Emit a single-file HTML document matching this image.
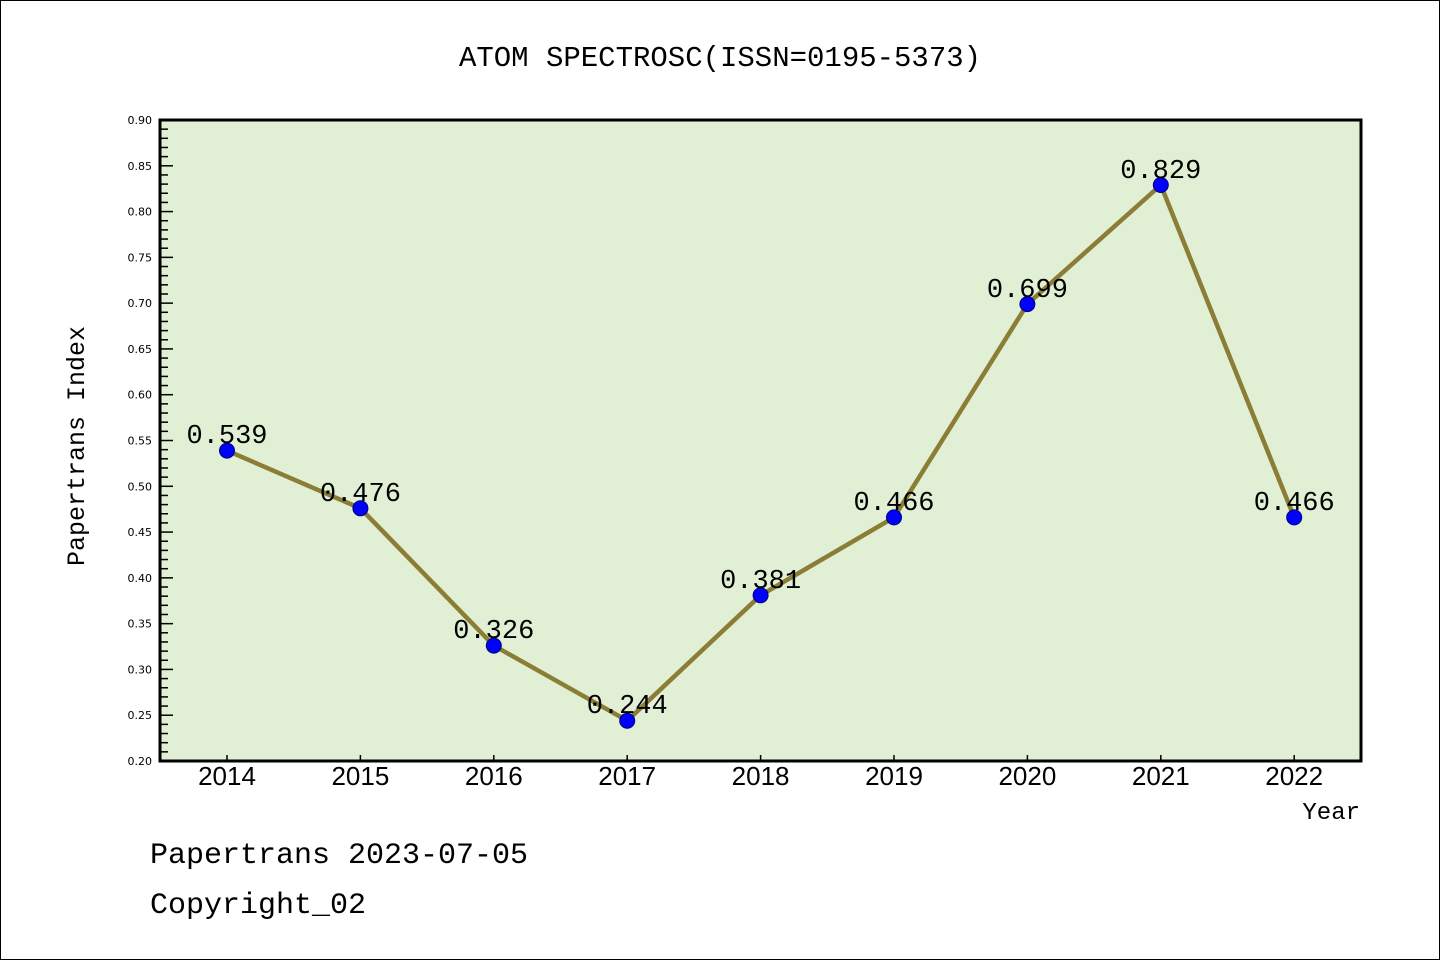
<!DOCTYPE html>
<html><head><meta charset="utf-8"><style>
html,body{margin:0;padding:0;background:#fff}
svg{display:block}
</style></head><body>
<svg width="1440" height="960" xmlns="http://www.w3.org/2000/svg">
<rect x="0.5" y="0.5" width="1439" height="959" fill="#fff" stroke="#000" stroke-width="1"/>
<text x="720" y="66" text-anchor="middle" font-family="Liberation Mono, monospace" font-size="29">ATOM SPECTROSC(ISSN=0195-5373)</text>
<rect x="160" y="120" width="1201" height="641" fill="#e1efd5"/>
<g id="ticks" stroke="#000" stroke-width="1.5"></g>
<g id="ylab" font-family="DejaVu Sans, sans-serif" font-size="11" text-anchor="end"></g>
<g id="xt" stroke="#000" stroke-width="1.5"></g>
<g id="xlab" font-family="Liberation Sans, sans-serif" font-size="26" text-anchor="middle"></g>
<rect x="160" y="120" width="1201" height="641" fill="none" stroke="#000" stroke-width="3"/>
<polyline fill="none" stroke="#8b7d35" stroke-width="4.5" stroke-linejoin="round" points="227,450.6 360.4,508.3 493.8,645.6 627.2,720.7 760.6,595.3 894,517.4 1027.4,304.1 1160.8,185 1294.2,517.4"/>
<g fill="#0000ff" stroke="#00007a" stroke-width="1">
<circle cx="227" cy="450.6" r="7.5"/><circle cx="360.4" cy="508.3" r="7.5"/><circle cx="493.8" cy="645.6" r="7.5"/><circle cx="627.2" cy="720.7" r="7.5"/><circle cx="760.6" cy="595.3" r="7.5"/><circle cx="894" cy="517.4" r="7.5"/><circle cx="1027.4" cy="304.1" r="7.5"/><circle cx="1160.8" cy="185" r="7.5"/><circle cx="1294.2" cy="517.4" r="7.5"/>
</g>
<g font-family="Liberation Mono, monospace" font-size="27" text-anchor="middle">
<text x="227" y="443">0.539</text><text x="360.4" y="501">0.476</text><text x="493.8" y="638">0.326</text><text x="627.2" y="713">0.244</text><text x="760.6" y="588">0.381</text><text x="894" y="510">0.466</text><text x="1027.4" y="297">0.699</text><text x="1160.8" y="178">0.829</text><text x="1294.2" y="510">0.466</text>
</g>
<text transform="translate(84,446) rotate(-90)" text-anchor="middle" font-family="Liberation Mono, monospace" font-size="25">Papertrans Index</text>
<text x="1360" y="819" text-anchor="end" font-family="Liberation Mono, monospace" font-size="24">Year</text>
<text x="150" y="863" font-family="Liberation Mono, monospace" font-size="30">Papertrans 2023-07-05</text>
<text x="150" y="913" font-family="Liberation Mono, monospace" font-size="30">Copyright_02</text>
<script>
var ns="http://www.w3.org/2000/svg",t=document.getElementById('ticks'),yl=document.getElementById('ylab');
for(var i=0;i<=70;i++){var y=761-i*641/70;var major=i%5==0;
var l=document.createElementNS(ns,'line');l.setAttribute('x1',160);l.setAttribute('x2',major?173:168);l.setAttribute('y1',y);l.setAttribute('y2',y);t.appendChild(l);
if(major){var tx=document.createElementNS(ns,'text');tx.setAttribute('x',152);tx.setAttribute('y',y+4);tx.textContent=(0.2+i/100).toFixed(2);yl.appendChild(tx);}}
var xt=document.getElementById('xt'),xl=document.getElementById('xlab');
for(var k=0;k<9;k++){var x=227+k*133.4;var l=document.createElementNS(ns,'line');l.setAttribute('x1',x);l.setAttribute('x2',x);l.setAttribute('y1',761);l.setAttribute('y2',755);xt.appendChild(l);
var tx=document.createElementNS(ns,'text');tx.setAttribute('x',x);tx.setAttribute('y',785);tx.textContent=2014+k;xl.appendChild(tx);}
</script>
</svg>
</body></html>
